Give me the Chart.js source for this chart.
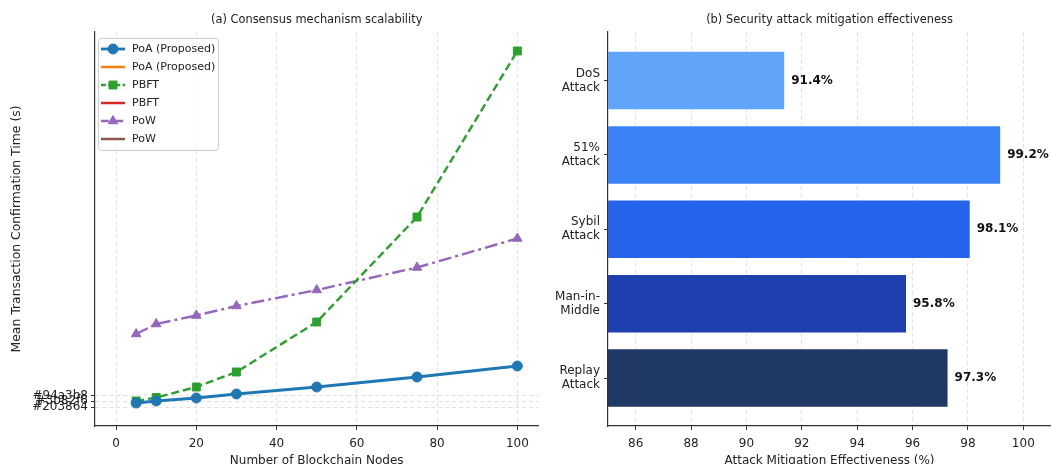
<!DOCTYPE html>
<html>
<head>
<meta charset="utf-8">
<script src="https://cdn.jsdelivr.net/npm/chart.js@4.4.1/dist/chart.umd.min.js"></script>
<style>
  body { margin: 0; background: #fff; overflow: hidden; }
  .wrap { position: absolute; top: 0; height: 472px; }
</style>
</head>
<body>
<div class="wrap" style="left:0;width:545px"><canvas id="scaleChart"></canvas></div>
<div class="wrap" style="left:545px;width:506px"><canvas id="attackChart"></canvas></div>
<script>
// --- panel (a) data ---
const nodes = [5, 10, 20, 30, 50, 75, 100];
const poaTimes = [2.3, 2.5, 2.8, 3.2, 3.9, 4.9, 6.0];
const pbftTimes = [2.5, 2.85, 3.9, 5.4, 10.4, 20.9, 37.5];
const powTimes = [9.2, 10.2, 11.05, 12.0, 13.6, 15.85, 18.75];
const nodeTicks = [0, 20, 40, 60, 80, 100];
const timeTickValues = [3.03, 2.47, 1.87];
const timeTickLabels = ['#94a3b8', '#3b82f6', '#203864'];

// --- panel (b) data ---
const attacks = [['DoS', 'Attack'], ['51%', 'Attack'], ['Sybil', 'Attack'], ['Man-in-', 'Middle'], ['Replay', 'Attack']];
const mitigation = [91.4, 99.2, 98.1, 95.8, 97.3];
const attackColors = ['#60a5fa', '#3b82f6', '#2563eb', '#1e40af', '#1f3864'];
const effTicks = [86, 88, 90, 92, 94, 96, 98, 100];

const FONT = 'DejaVu Sans';
const TEXT = '#222';
const GRID = 'rgba(200,200,200,0.55)';
const SPINE = '#333';

function xy(xs, ys) {
    return xs.map((x, i) => ({ x: x, y: ys[i] }));
}

// title centred over the plot area
const panelTitle = {
    id: 'panelTitle',
    afterDraw(chart, args, opts) {
        const ctx = chart.ctx;
        const a = chart.chartArea;
        ctx.save();
        ctx.font = '11.4px "' + FONT + '"';
        ctx.fillStyle = TEXT;
        ctx.textAlign = 'center';
        ctx.textBaseline = 'middle';
        ctx.fillText(opts.text, (a.left + a.right) / 2, 20);
        ctx.restore();
    }
};

// matplotlib style legend box, line + marker handles
const boxLegend = {
    id: 'boxLegend',
    afterDraw(chart) {
        const ctx = chart.ctx;
        const a = chart.chartArea;
        const x0 = a.left + 3, y0 = a.top + 6, w = 120, h = 112;
        ctx.save();
        ctx.fillStyle = 'rgba(255,255,255,0.85)';
        ctx.strokeStyle = '#cccccc';
        ctx.lineWidth = 1;
        ctx.beginPath();
        ctx.roundRect(x0 + 0.5, y0 + 0.5, w, h, 3);
        ctx.fill();
        ctx.stroke();
        chart.data.datasets.forEach((ds, i) => {
            const cy = y0 + 11 + i * 18;
            ctx.save();
            ctx.strokeStyle = ds.borderColor;
            ctx.lineWidth = ds.borderWidth;
            ctx.setLineDash(ds.borderDash ? ds.borderDash.map(d => d * 0.6) : []);
            ctx.beginPath();
            ctx.moveTo(x0 + 3, cy);
            ctx.lineTo(x0 + 27, cy);
            ctx.stroke();
            ctx.restore();
            if (ds.pointRadius > 0) {
                ctx.fillStyle = ds.borderColor;
                ctx.strokeStyle = ds.borderColor;
                Chart.helpers.drawPoint(ctx, {
                    pointStyle: ds.pointStyle,
                    radius: ds.pointRadius,
                    borderWidth: 1,
                    rotation: 0
                }, x0 + 15, cy);
            }
            ctx.fillStyle = TEXT;
            ctx.font = '11px "' + FONT + '"';
            ctx.textAlign = 'left';
            ctx.textBaseline = 'middle';
            ctx.fillText(ds.label, x0 + 34, cy);
        });
        ctx.restore();
    }
};

// bold value labels at the end of each bar
const barValues = {
    id: 'barValues',
    afterDatasetsDraw(chart) {
        const ctx = chart.ctx;
        const meta = chart.getDatasetMeta(0);
        ctx.save();
        ctx.font = 'bold 12px "' + FONT + '"';
        ctx.fillStyle = '#111';
        ctx.textAlign = 'left';
        ctx.textBaseline = 'middle';
        meta.data.forEach((bar, i) => {
            ctx.fillText(mitigation[i].toFixed(1) + '%', bar.x + 6, bar.y);
        });
        ctx.restore();
    }
};

function lineSet(label, ys, color, dash, style, radius, width) {
    return {
        label: label,
        data: ys ? xy(nodes, ys) : [],
        borderColor: color,
        backgroundColor: color,
        borderWidth: width,
        borderDash: dash,
        pointStyle: style,
        pointRadius: radius,
        pointHoverRadius: radius,
        pointBorderWidth: 1,
        tension: 0
    };
}

new Chart(document.getElementById('scaleChart'), {
    type: 'line',
    data: {
        datasets: [
            lineSet('PoA (Proposed)', poaTimes, '#1f77b4', [], 'circle', 5, 2.8),
            lineSet('PoA (Proposed)', null, '#ff7f0e', [], false, 0, 2.5),
            lineSet('PBFT', pbftTimes, '#2ca02c', [8, 4], 'rect', 5.6, 2.4),
            lineSet('PBFT', null, '#d62728', [], false, 0, 2.5),
            lineSet('PoW', powTimes, '#9467bd', [13, 4, 3, 4], 'triangle', 5.5, 2.4),
            lineSet('PoW', null, '#8c564b', [], false, 0, 2.5)
        ]
    },
    options: {
        responsive: true,
        maintainAspectRatio: false,
        animation: false,
        layout: { padding: { top: 32, right: 5, left: 0, bottom: 0 } },
        plugins: {
            legend: { display: false },
            tooltip: { enabled: false },
            panelTitle: { text: '(a) Consensus mechanism scalability' }
        },
        scales: {
            x: {
                type: 'linear',
                min: -5.25,
                max: 105.25,
                afterBuildTicks: s => { s.ticks = nodeTicks.map(v => ({ value: v })); },
                afterFit: s => { s.height = 46; },
                ticks: { color: TEXT, font: { family: FONT, size: 12 }, padding: 7, maxRotation: 0 },
                grid: { color: GRID, tickColor: SPINE, tickLength: 4, tickBorderDash: [] },
                border: { color: SPINE, width: 1.2, dash: [4, 3] },
                title: {
                    display: true, text: 'Number of Blockchain Nodes', color: TEXT,
                    font: { family: FONT, size: 12 }, padding: { top: 0, bottom: 4 }
                }
            },
            y: {
                type: 'linear',
                min: 0,
                max: 39.4,
                afterBuildTicks: s => { s.ticks = timeTickValues.map(v => ({ value: v })); },
                afterFit: s => { s.width = 95; },
                ticks: {
                    color: TEXT, font: { family: FONT, size: 12 }, padding: 3,
                    callback: v => timeTickLabels[timeTickValues.indexOf(v)]
                },
                grid: { color: GRID, tickColor: SPINE, tickLength: 4, tickBorderDash: [] },
                border: { color: SPINE, width: 1.2, dash: [4, 3] },
                title: {
                    display: true, text: 'Mean Transaction Confirmation Time (s)', color: TEXT,
                    font: { family: FONT, size: 12.4 }, padding: { top: 9, bottom: 0 }
                }
            }
        }
    },
    plugins: [panelTitle, boxLegend]
});

new Chart(document.getElementById('attackChart'), {
    type: 'bar',
    data: {
        datasets: [{
            data: mitigation.map((v, i) => ({ x: v, y: i })),
            backgroundColor: attackColors,
            borderColor: 'rgba(255,255,255,0.7)',
            borderWidth: 1,
            barPercentage: 0.8,
            categoryPercentage: 1
        }]
    },
    options: {
        indexAxis: 'y',
        responsive: true,
        maintainAspectRatio: false,
        animation: false,
        layout: { padding: { top: 32, right: 0, left: 0, bottom: 0 } },
        plugins: {
            legend: { display: false },
            tooltip: { enabled: false },
            panelTitle: { text: '(b) Security attack mitigation effectiveness' }
        },
        scales: {
            x: {
                type: 'linear',
                min: 85,
                max: 101,
                afterBuildTicks: s => { s.ticks = effTicks.map(v => ({ value: v })); },
                afterFit: s => { s.height = 46; },
                ticks: { color: TEXT, font: { family: FONT, size: 12 }, padding: 7, maxRotation: 0 },
                grid: { color: GRID, tickColor: SPINE, tickLength: 4, tickBorderDash: [] },
                border: { color: SPINE, width: 1.2, dash: [4, 3] },
                title: {
                    display: true, text: 'Attack Mitigation Effectiveness (%)', color: TEXT,
                    font: { family: FONT, size: 12 }, padding: { top: 0, bottom: 4 }
                }
            },
            y: {
                type: 'linear',
                reverse: true,
                offset: false,
                min: -0.652,
                max: 4.645,
                afterBuildTicks: s => { s.ticks = attacks.map((a, i) => ({ value: i })); },
                afterFit: s => { s.width = 63; },
                ticks: {
                    color: TEXT, font: { family: FONT, size: 12, lineHeight: 1.17 }, padding: 4,
                    callback: v => attacks[v]
                },
                grid: { offset: false, drawOnChartArea: false, tickColor: SPINE, tickLength: 4 },
                border: { color: SPINE, width: 1.2 }
            }
        }
    },
    plugins: [panelTitle, barValues]
});
</script>
</body>
</html>
